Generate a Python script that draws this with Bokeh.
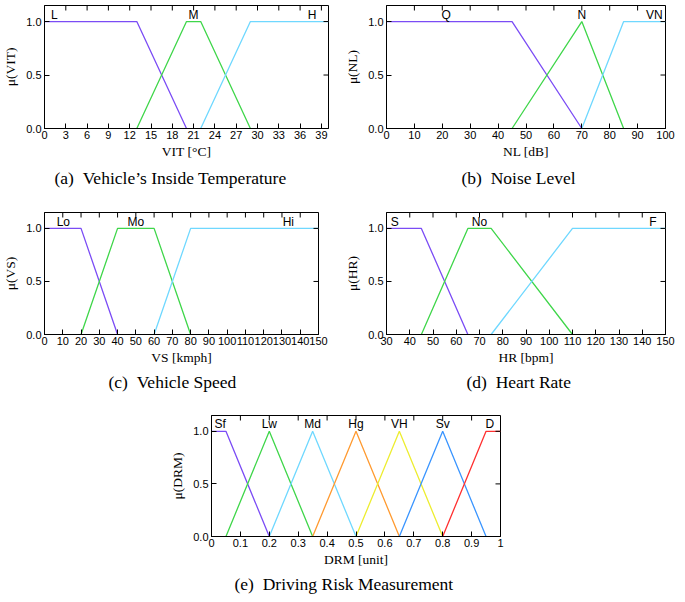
import math
from bokeh.plotting import figure
from bokeh.layouts import column, row
from bokeh.models import (FixedTicker, PrintfTickFormatter, Title,
                          CustomJSTickFormatter, Spacer)
from bokeh.core.properties import value
from bokeh.embed import file_html
from bokeh.resources import INLINE

# ---------------- data ----------------
# (a) Vehicle's Inside Temperature
vit_names = ["L", "M", "H"]
vit_x = [[0, 13, 20], [13, 20, 22, 29], [22, 29, 40]]
vit_y = [[1, 1, 0], [0, 1, 1, 0], [0, 1, 1]]
vit_label_x = [1.4, 21, 37.7]
vit_ticks = [0, 3, 6, 9, 12, 15, 18, 21, 24, 27, 30, 33, 36, 39]

# (b) Noise Level
nl_names = ["Q", "N", "VN"]
nl_x = [[0, 45, 70], [45, 70, 85], [70, 85, 100]]
nl_y = [[1, 1, 0], [0, 1, 0], [0, 1, 1]]
nl_label_x = [21.4, 70, 96]
nl_ticks = [0, 10, 20, 30, 40, 50, 60, 70, 80, 90, 100]

# (c) Vehicle Speed
vs_names = ["Lo", "Mo", "Hi"]
vs_x = [[0, 20, 40], [20, 40, 60, 80], [60, 80, 150]]
vs_y = [[1, 1, 0], [0, 1, 1, 0], [0, 1, 1]]
vs_label_x = [10.3, 50, 133.5]
vs_ticks = [0, 10, 20, 30, 40, 50, 60, 70, 80, 90, 100, 110, 120, 130, 140, 150]

# (d) Heart Rate
hr_names = ["S", "No", "F"]
hr_x = [[30, 45, 65], [45, 65, 75, 110], [75, 110, 150]]
hr_y = [[1, 1, 0], [0, 1, 1, 0], [0, 1, 1]]
hr_label_x = [33.6, 70, 144.6]
hr_ticks = [30, 40, 50, 60, 70, 80, 90, 100, 110, 120, 130, 140, 150]

# (e) Driving Risk Measurement
drm_names = ["Sf", "Lw", "Md", "Hg", "VH", "Sv", "D"]
drm_x = [[0, 0.05, 0.2], [0.05, 0.2, 0.35], [0.2, 0.35, 0.5], [0.35, 0.5, 0.65],
         [0.5, 0.65, 0.8], [0.65, 0.8, 0.95], [0.8, 0.95, 1.0]]
drm_y = [[1, 1, 0], [0, 1, 0], [0, 1, 0], [0, 1, 0], [0, 1, 0], [0, 1, 0], [0, 1, 1]]
drm_label_x = [0.03, 0.2, 0.35, 0.5, 0.65, 0.8, 0.963]
drm_ticks = [0, 0.1, 0.2, 0.3, 0.4, 0.5, 0.6, 0.7, 0.8, 0.9, 1.0]

y_ticks = [0, 0.5, 1.0]
Y_MAX = 1.15
LABEL_Y = 1.065

colors3 = ["#7b4cf5", "#3fd64a", "#6fd8ff"]
colors7 = ["#7b4cf5", "#3fd64a", "#6fd8ff", "#ff9a30", "#eded30", "#3a95ff", "#ff3030"]

SANS = "Liberation Sans"
SERIF = "Liberation Serif"


def panel(names, xs, ys, lab_x, ticks, xr, xlabel, ylabel, caption, colors,
          width, height, bl, br, bt, bb, cap_off, cap_standoff, drm=False):
    p = figure(width=width, height=height, x_range=xr, y_range=(0, Y_MAX),
               output_backend="svg", toolbar_location=None, title=None,
               min_border_left=bl, min_border_right=br,
               min_border_top=bt, min_border_bottom=bb)
    p.grid.visible = False
    p.outline_line_color = "black"
    p.outline_line_alpha = 1
    p.outline_line_width = 1
    p.background_fill_color = "white"
    p.border_fill_color = "white"

    for xx, yy, c in zip(xs, ys, colors):
        p.line(xx, yy, line_color=c, line_width=1.3)

    p.text(x=lab_x, y=[LABEL_Y] * len(names), text=names,
           text_font=value(SANS), text_font_size="12px", text_color="black",
           text_align="center", text_baseline="alphabetic")

    # mirrored inward ticks on top and right edges
    p.ray(x=ticks, y=[Y_MAX] * len(ticks), length=5, length_units="screen",
          angle=-math.pi / 2, line_color="black", line_width=1)
    p.ray(x=[xr[1]] * len(y_ticks), y=y_ticks, length=5, length_units="screen",
          angle=math.pi, line_color="black", line_width=1)

    xt = FixedTicker(ticks=ticks)
    yt = FixedTicker(ticks=y_ticks)
    yf = PrintfTickFormatter(format="%.1f")
    if drm:
        xf = CustomJSTickFormatter(code="return String(Math.round(tick*10)/10);")
    else:
        xf = PrintfTickFormatter(format="%d")

    for ax in p.xaxis:
        ax.ticker = xt
        ax.formatter = xf
    for ax in p.yaxis:
        ax.ticker = yt
        ax.formatter = yf

    for ax in list(p.xaxis) + list(p.yaxis):
        ax.major_tick_in = 5
        ax.major_tick_out = 0
        ax.minor_tick_in = 0
        ax.minor_tick_out = 0
        ax.major_tick_line_color = "black"
        ax.axis_line_color = "black"
        ax.major_label_text_font = SANS
        ax.major_label_text_font_size = "11px"
        ax.major_label_text_color = "black"
        ax.major_label_standoff = 2
        ax.axis_label_text_font = SERIF
        ax.axis_label_text_font_size = "13.5px"
        ax.axis_label_text_font_style = "normal"
        ax.axis_label_text_color = "black"
        ax.axis_label_standoff = 2

    p.xaxis.axis_label = xlabel
    p.yaxis.axis_label = ylabel
    p.yaxis.major_label_standoff = 3
    p.yaxis.axis_label_standoff = 5

    p.add_layout(Title(text=caption, text_font=SERIF, text_font_size="17.5px",
                       text_font_style="normal", text_color="black",
                       align="left", offset=cap_off, standoff=cap_standoff), "below")
    return p


pa = panel(vit_names, vit_x, vit_y, vit_label_x, vit_ticks, (0, 40), "VIT [°C]", "μ(VIT)",
           "(a)\u2002Vehicle\u2019s Inside Temperature", colors3,
           342, 204, 35, 14, 1, 76, 10, 8)
pb = panel(nl_names, nl_x, nl_y, nl_label_x, nl_ticks, (0, 100), "NL [dB]", "μ(NL)",
           "(b)\u2002Noise Level", colors3,
           335, 204, 35, 12, 5, 75, 75, 8)
pc = panel(vs_names, vs_x, vs_y, vs_label_x, vs_ticks, (0, 150), "VS [kmph]", "μ(VS)",
           "(c)\u2002Vehicle Speed", colors3,
           342, 201, 35, 24, 7, 70, 64, 4)
pd = panel(hr_names, hr_x, hr_y, hr_label_x, hr_ticks, (30, 150), "HR [bpm]", "μ(HR)",
           "(d)\u2002Heart Rate", colors3,
           335, 201, 35, 12, 8, 71, 80, 4)
pe = panel(drm_names, drm_x, drm_y, drm_label_x, drm_ticks, (0, 1), "DRM [unit]", "μ(DRM)",
           "(e)\u2002Driving Risk Measurement", colors7,
           345, 190, 35, 12, 10, 57, 23, 4, drm=True)

layout = column(row(pa, pb), row(pc, pd), row(Spacer(width=167, height=190), pe))

open("out.html", "w").write(file_html(layout, INLINE))
